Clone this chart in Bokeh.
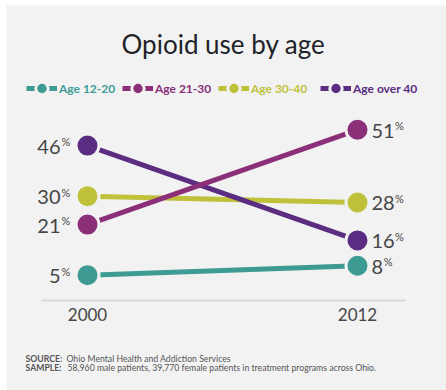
from bokeh.plotting import figure
from bokeh.models import (ColumnDataSource, Range1d, FixedTicker, Label, Legend,
                          LegendItem)
from bokeh.core.properties import value
from bokeh.embed import file_html
from bokeh.resources import INLINE

# ---- data ----
years = [2000, 2012]
series_names = ["Age 12-20", "Age 21-30", "Age 30-40", "Age over 40"]
series_values = {
    "Age 12-20": [5, 8],
    "Age 21-30": [21, 51],
    "Age 30-40": [30, 28],
    "Age over 40": [46, 16],
}
tick_labels = {2000: "2000", 2012: "2012"}
title_text = "Opioid use by age"
source_lines = [
    ("SOURCE:", "Ohio Mental Health and Addiction Services"),
    ("SAMPLE:", "58,960 male patients, 39,770 female patients in treatment programs across Ohio."),
]

colors = {
    "Age 12-20": "#3d9b94",
    "Age 21-30": "#8b2f79",
    "Age 30-40": "#bfc13b",
    "Age over 40": "#5a2d82",
}
BG = "#f2f2f2"
TEXT = "#464646"
FONT = "Lato"

p = figure(width=440, height=385, output_backend="svg", toolbar_location=None,
           title=None, x_range=Range1d(1996.4, 2015.956), y_range=Range1d(-31.48, 90.32),
           y_axis_location=None, min_border_left=0, min_border_right=0,
           min_border_top=0, min_border_bottom=0, margin=(5, 0, 0, 6))
p.background_fill_color = BG
p.border_fill_color = BG
p.outline_line_color = None
p.grid.visible = False

ax = p.xaxis[0]
ax.fixed_location = -3.005
ax.ticker = FixedTicker(ticks=years)
ax.major_label_overrides = tick_labels
ax.bounds = (1997.956, 2014.133)
ax.axis_line_color = "#d9d9d9"
ax.axis_line_width = 2
ax.major_tick_line_color = None
ax.minor_tick_line_color = None
ax.major_label_standoff = 2
ax.major_label_text_font_size = "17px"
ax.major_label_text_color = TEXT
ax.major_label_text_font = FONT

order = ["Age 12-20", "Age 30-40", "Age over 40", "Age 21-30"]
line_r = {}
dot_r = {}
srcs = {name: ColumnDataSource(dict(x=years, y=series_values[name])) for name in series_names}
for name in order:
    line_r[name] = p.line("x", "y", source=srcs[name], line_color=colors[name], line_width=5)
for name in order:
    dot_r[name] = p.scatter("x", "y", source=srcs[name], size=23, fill_color=colors[name],
                            line_color=BG, line_width=3)

# value labels
for name in series_names:
    vals = series_values[name]
    nums = [str(v) for v in vals]
    src = ColumnDataSource(dict(x=years, y=vals, t=nums,
                                pct=["%", "%"],
                                xo=[-27, 14],
                                align=["right", "left"],
                                pxo=[-26, 14 + 11.3 * len(nums[1]) + 1]))
    p.text("x", "y", text="t", source=src, x_offset="xo", y_offset=1,
           text_align="align", text_baseline="middle",
           text_font=value(FONT), text_font_size="20px", text_color=TEXT)
    p.text("x", "y", text="pct", source=src, x_offset="pxo", y_offset=-4,
           text_align="left", text_baseline="middle",
           text_font=value(FONT), text_font_size="11px", text_color=TEXT)

# legends (one per series so each label keeps its series colour)
legend_x = [20, 116, 212, 314]
for lx, name in zip(legend_x, series_names):
    leg = Legend(items=[LegendItem(label=name, renderers=[line_r[name], dot_r[name]])],
                 location=(lx, 286), orientation="horizontal",
                 background_fill_alpha=0, border_line_alpha=0,
                 padding=0, margin=0, spacing=0, label_standoff=2,
                 glyph_width=31, glyph_height=32, label_height=12,
                 label_text_font=FONT, label_text_font_size="12px",
                 label_text_font_style="bold", label_text_color=colors[name])
    p.add_layout(leg, "center")

p.add_layout(Label(x=217, y=347, x_units="screen", y_units="screen", text=title_text,
                   text_align="center", text_baseline="middle", text_font=FONT,
                   text_font_size="26px", text_color="#1f2329"))

for i, (bold, rest) in enumerate(source_lines):
    yy = 32 - 9 * i
    p.add_layout(Label(x=19, y=yy, x_units="screen", y_units="screen", text=bold,
                       text_baseline="middle", text_font=FONT, text_font_size="8.7px",
                       text_font_style="bold", text_color="#555555"))
    p.add_layout(Label(x=60 + i, y=yy, x_units="screen", y_units="screen", text=rest,
                       text_baseline="middle", text_font=FONT, text_font_size="8.7px",
                       text_color="#555555"))

open("out.html", "w").write(file_html(p, INLINE))
